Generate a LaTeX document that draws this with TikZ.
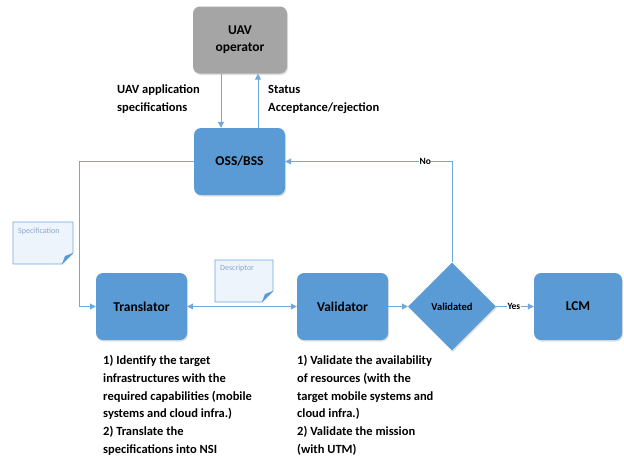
\documentclass[tikz,border=0pt]{standalone}
\usepackage{fontspec}
\setmainfont{Carlito}
\usetikzlibrary{arrows.meta,shapes.geometric,shadows,calc}
\definecolor{boxblue}{HTML}{5B9BD5}
\definecolor{linblue}{HTML}{6FA8DC}
\definecolor{boxgray}{HTML}{A5A5A5}
\definecolor{notefill}{HTML}{EEF4FB}
\definecolor{notetext}{HTML}{8AA6CC}
\tikzset{
  x=1pt, y=-1pt,
  procbox/.style={draw=none, fill=boxblue, rounded corners=7pt, minimum width=91pt, minimum height=67pt,
     font=\fontsize{13.5}{15}\selectfont\bfseries, text=black,
     drop shadow={opacity=0.25, shadow xshift=1pt, shadow yshift=-1.5pt}},
  graybox/.style={procbox, fill=boxgray},
  decbox/.style={diamond, draw=none, fill=boxblue, minimum width=88pt, minimum height=88pt, inner sep=0pt,
     font=\fontsize{10.5}{12}\selectfont\bfseries, drop shadow={opacity=0.25, shadow xshift=1pt, shadow yshift=-1.5pt}},
  conn/.style={draw=linblue, line width=1pt, -{Triangle[length=6pt,width=6pt]}},
  biconn/.style={draw=linblue, line width=1pt, {Triangle[length=6pt,width=6pt]}-{Triangle[length=6pt,width=6pt]}},
  lbl/.style={font=\fontsize{12.5}{17.8}\selectfont\bfseries, align=left, inner sep=0pt, anchor=north west},
  small/.style={font=\fontsize{9.5}{11}\selectfont\bfseries, fill=white, inner sep=0.5pt},
  notestyle/.style={draw=linblue, line width=0.8pt, fill=notefill},
  notelbl/.style={font=\fontsize{8}{9}\selectfont, text=notetext, inner sep=0pt, anchor=north west},
}
\begin{document}
\begin{tikzpicture}
\useasboundingbox (0,0) rectangle (624,459);

% nodes
\node[graybox, minimum width=94pt, minimum height=67pt, align=center, font=\fontsize{13.5}{17}\selectfont\bfseries] (uav) at (240,40) {UAV\\operator};
\node[procbox] (oss) at (239.5,161.5) {OSS/BSS};
\node[procbox] (trans) at (141.5,306.5) {Translator};
\node[procbox] (val) at (342.5,306.5) {Validator};
\node[decbox] (dia) at (452,306.5) {Validated};
\node[procbox, minimum width=88pt] (lcm) at (578,306.5) {LCM};

% connectors
\draw[conn] ([xshift=-19pt]uav.south) -- ([xshift=-18.5pt]oss.north);
\draw[conn] ([xshift=18.5pt]oss.north) -- ([xshift=18pt]uav.south);
\draw[conn] (oss.west) -| ([xshift=-16pt]trans.west) -- (trans.west);
\draw[biconn] (trans.east) -- (val.west);
\draw[conn] (val.east) -- (dia.west);
\draw[conn] (dia.east) -- node[small, pos=0.47] (yes) {Yes} (lcm.west);
\draw[conn] (dia.north) |- node[small, pos=0.58] (no) {No} (oss.east);

% labels
\node[lbl] (l1) at (117,85) {UAV application\\specifications};
\node[lbl] (l2) at (268,85) {Status\\Acceptance/rejection};
\node[lbl] (t1) at (103,355) {1) Identify the target\\infrastructures with the\\required capabilities (mobile\\systems and cloud infra.)\\2) Translate the\\specifications into NSI};
\node[lbl] (t2) at (297,355) {1) Validate the availability\\of resources (with the\\target mobile systems and\\cloud infra.)\\2) Validate the mission\\(with UTM)};

% notes
\filldraw[notestyle] (13,222) -- (73,222) -- (73,253) -- (62,264) -- (13,264) -- cycle;
\fill[boxblue] (73,253) -- (62,264) -- (65,256) -- cycle;
\node[notelbl] (spec) at (18,228) {Specification};

\filldraw[notestyle] (215,260) -- (273,260) -- (273,291) -- (262,302) -- (215,302) -- cycle;
\fill[boxblue] (273,291) -- (262,302) -- (265,294) -- cycle;
\node[notelbl] (desc) at (220,265) {Descriptor};
\end{tikzpicture}
\end{document}
